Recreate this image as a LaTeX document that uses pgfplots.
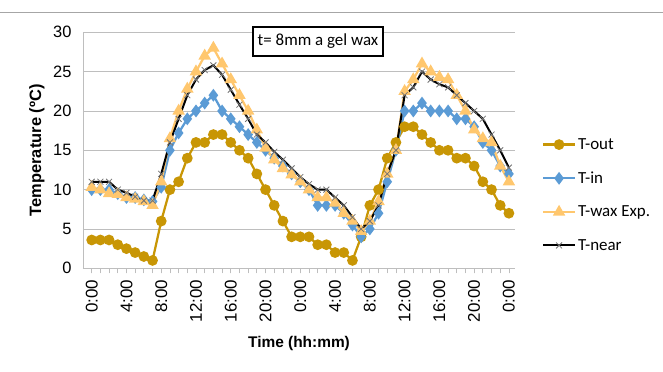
\documentclass[border=0pt]{standalone}
\usepackage{pgfplots}
\pgfplotsset{compat=1.18}
\usepackage{pgfplotstable}
\usepackage{fontspec}
\setmainfont{Liberation Sans}
\newfontfamily\calibri{Carlito}
\definecolor{cout}{RGB}{200,150,5}
\definecolor{cin}{RGB}{91,155,213}
\definecolor{cwax}{RGB}{255,199,110}
\definecolor{gridc}{RGB}{190,190,190}

\pgfplotstableread{
i out in wax near
0 3.6 10 10.3 11
1 3.6 10 10 11
2 3.6 10 9.5 11
3 3 9.5 9.4 10
4 2.5 9 9 9.6
5 2 9 8.8 9.1
6 1.5 8.7 8.5 8.6
7 1 8.5 8 8.6
8 6 10.3 11 12
9 10 15 16.5 16
10 11 17.2 20 19
11 14 19 22.8 22
12 16 20 25 24
13 16 21 27 25.2
14 17 22 28 25.8
15 17 20 26 24.6
16 16 19 24 22.7
17 15 18 22 20.8
18 14 17 20 19
19 12 16 17.6 17
20 10 15 15.3 16
21 8 14 13.8 14.8
22 6 13 12.7 13.8
23 4 12 11.9 12.7
24 4 11 11 11.6
25 4 10 10 10.7
26 3 8 9 10
27 3 8 9 10
28 2 8 8.3 9
29 2 7 7 8
30 1 5.5 6 6.5
31 4 4 4.7 5
32 8 5 6 6
33 10 7 8.5 8
34 14 11 12 12
35 16 15 15 15
36 18 20 22.5 22
37 18 20 24 23
38 17 21 26 25
39 16 20 25 24
40 15 20 24.3 23.4
41 15 20 24 23
42 14 19 22 22
43 14 19 20 21
44 13 18 17.6 20
45 11 16 16.5 19
46 10 15 16 17
47 8 13 13 15
48 7 12 11 12.8
}\data

\begin{document}
\begin{tikzpicture}
\begin{axis}[
  at={(0,0)}, anchor=south west, scale only axis,
  width=432bp, height=236bp,
  xmin=-1, xmax=48.7, ymin=0, ymax=30,
  clip=false,
  axis x line=bottom, axis y line=left,
  axis line style={-, draw=gridc, line width=0.8bp},
  ytick={0,5,...,30},
  ymajorgrids, grid style={gridc, line width=0.8bp},
  xtick={0,4,...,48},
  xticklabels={0:00,4:00,8:00,12:00,16:00,20:00,0:00,4:00,8:00,12:00,16:00,20:00,0:00},
  minor xtick={0,1,...,48},
  tick align=outside,
  major tick length=5bp, minor tick length=5bp,
  x tick style={gridc, line width=0.8bp},
  y tick style={draw=none},
  xticklabel style={rotate=90, anchor=east, font=\fontsize{17}{17}\selectfont, xshift=-3bp},
  yticklabel style={font=\fontsize{16.5}{17}\selectfont, xshift=-3bp},
  /pgf/number format/assume math mode=true,
  xlabel={\textbf{Time (hh:mm)}},
  ylabel={\textbf{Temperature (ºC)}},
  xlabel style={at={(axis description cs:0.5,-0.318)}, anchor=center, font=\fontsize{15.5}{16}\selectfont},
  ylabel style={at={(axis description cs:-0.1065,0.5)}, anchor=center, font=\fontsize{16.5}{17}\selectfont},
  legend style={at={(axis description cs:1.055,0.3106)}, anchor=west, draw=none, fill=none,
    font=\calibri\fontsize{17}{17}\selectfont, row sep=17bp},
  legend cell align=left,
  legend image code/.code={
    \draw[mark repeat=2,mark phase=2,#1] plot coordinates {(0bp,0bp) (16bp,0bp) (32bp,0bp)};
  },
]
\addplot[cout, line width=2.25bp, mark=*, mark size=4.2bp, mark options={solid, fill=cout, draw=cout}] table[x=i, y=out] {\data};
\addlegendentry{T-out}
\addplot[cin, line width=2.25bp, mark=diamond*, mark size=4.6bp, mark options={solid, fill=cin, draw=cin}] table[x=i, y=in] {\data};
\addlegendentry{T-in}
\addplot[cwax, line width=2.25bp, mark=triangle*, mark size=5bp, mark options={solid, fill=cwax, draw=cwax}] table[x=i, y=wax] {\data};
\addlegendentry{T-wax Exp.}
\addplot[black, line width=2bp, mark=x, mark size=4.2bp, mark options={solid, draw=black!55, line width=0.8bp}] table[x=i, y=near] {\data};
\addlegendentry{T-near}
\coordinate (tbox) at (rel axis cs:0.544,0.962);
\end{axis}
\node[draw=black, line width=2bp, fill=white, font=\calibri\fontsize{17}{17}\selectfont, inner xsep=5bp, minimum height=29bp] at (tbox) {t= 8mm a gel wax};
\draw[gray!70, line width=0.8bp] (-83bp,256.3bp) -- (580bp,256.3bp);
\pgfresetboundingbox
\path (-83bp,-103.7bp) rectangle (580bp,268.3bp);
\end{tikzpicture}
\end{document}
